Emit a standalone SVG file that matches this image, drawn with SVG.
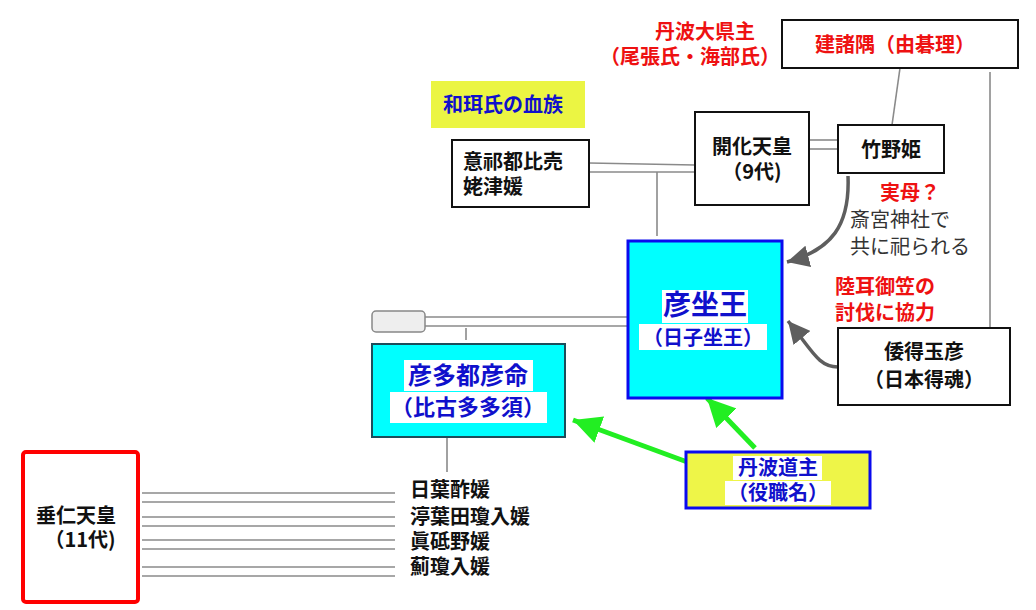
<svg xmlns="http://www.w3.org/2000/svg" width="1036" height="610" viewBox="0 0 1036 610">
<style>
text{font-family:"Noto Sans CJK JP","Noto Sans",sans-serif;font-weight:bold;font-size:20px;fill:#111}
.c{text-anchor:middle}
.red{fill:#ee1111}
.blue{fill:#1010cc}
.reg{font-weight:normal;fill:#333}
.box{fill:#fff;stroke:#111;stroke-width:2}
.ln{stroke:#8a8a8a;stroke-width:1.6;fill:none}
.hl{fill:#fff}
</style>
<defs>
<marker id="agr" viewBox="0 0 10 10" refX="10" refY="5" markerWidth="28" markerHeight="28" orient="auto" markerUnits="userSpaceOnUse">
<path d="M0,0 L10,5 L0,10 Z" fill="#22ee22"/>
</marker>
<marker id="agy" viewBox="0 0 10 10" refX="10" refY="5" markerWidth="22" markerHeight="22" orient="auto" markerUnits="userSpaceOnUse">
<path d="M0,0 L10,5 L0,10 Z" fill="#5e5e5e"/>
</marker>
</defs>

<g id="connectors">
<line class="ln" x1="589" y1="163" x2="695" y2="165"/>
<line class="ln" x1="589" y1="172" x2="695" y2="172"/>
<line class="ln" x1="657" y1="172" x2="657" y2="236"/>
<line class="ln" x1="806" y1="140" x2="838" y2="140"/>
<line class="ln" x1="809" y1="149" x2="838" y2="149"/>
<line class="ln" x1="900" y1="68" x2="892" y2="125"/>
<line class="ln" x1="990" y1="72" x2="990" y2="333"/>
<line class="ln" x1="425" y1="317" x2="628" y2="317"/>
<line class="ln" x1="425" y1="326" x2="628" y2="326"/>
<line class="ln" x1="466" y1="328" x2="466" y2="340"/>
<line class="ln" x1="447" y1="437" x2="447" y2="472"/>
<line class="ln" x1="142" y1="493" x2="395" y2="493"/>
<line class="ln" x1="142" y1="502" x2="395" y2="502"/>
<line class="ln" x1="142" y1="517" x2="395" y2="517"/>
<line class="ln" x1="142" y1="526" x2="395" y2="526"/>
<line class="ln" x1="142" y1="540" x2="395" y2="540"/>
<line class="ln" x1="142" y1="549" x2="395" y2="549"/>
<line class="ln" x1="142" y1="567" x2="395" y2="567"/>
<line class="ln" x1="142" y1="576" x2="395" y2="576"/>
<path d="M848,176 C850,225 832,250 787,262" fill="none" stroke="#5e5e5e" stroke-width="3.5" marker-end="url(#agy)"/>
<path d="M838,367 C818,367 812,350 788,321" fill="none" stroke="#5e5e5e" stroke-width="3.5" marker-end="url(#agy)"/>
<line x1="690" y1="463" x2="573" y2="420" stroke="#22ee22" stroke-width="5" marker-end="url(#agr)"/>
<line x1="755" y1="448" x2="707" y2="398" stroke="#22ee22" stroke-width="5" marker-end="url(#agr)"/>
</g>

<g id="tanba-agata">
<text class="c red" x="705" y="39">丹波大県主</text>
<text class="c red" x="690" y="64">（尾張氏・海部氏）</text>
</g>

<g id="takemorosumi">
<rect class="box" x="782" y="20" width="236" height="48"/>
<text class="c red" x="895" y="52">建諸隅（由碁理）</text>
</g>

<g id="wani">
<rect x="431" y="81" width="154" height="47" fill="#ebf543"/>
<text class="blue" x="443" y="112">和珥氏の血族</text>
</g>

<g id="okitsuhime">
<rect class="box" x="452" y="140" width="137" height="67" stroke-width="1.5"/>
<text x="463" y="169">意祁都比売</text>
<text x="463" y="194">姥津媛</text>
</g>

<g id="kaika">
<rect class="box" x="695" y="112" width="114" height="93" stroke-width="1.5"/>
<text class="c" x="752" y="154">開化天皇</text>
<text class="c" x="752" y="179">（9代)</text>
</g>

<g id="takenohime">
<rect class="box" x="838" y="125" width="106" height="48"/>
<text class="c" x="891" y="157">竹野姫</text>
</g>

<g id="note-mother">
<text class="red" x="880" y="200">実母？</text>
<text class="reg" x="850" y="227">斎宮神社で</text>
<text class="reg" x="850" y="254">共に祀られる</text>
</g>

<g id="note-kugami">
<text class="red" x="835" y="294">陸耳御笠の</text>
<text class="red" x="835" y="320">討伐に協力</text>
</g>

<g id="yamatoenotamahiko">
<rect class="box" x="838" y="328" width="172" height="77"/>
<text class="c" x="924" y="359">倭得玉彦</text>
<text class="c" x="924" y="387">（日本得魂）</text>
</g>

<g id="hikoimasu">
<rect x="628" y="241" width="154" height="157" fill="#00ffff" stroke="#0a0aee" stroke-width="3"/>
<rect class="hl" x="662" y="290" width="86" height="33"/>
<rect class="hl" x="639" y="324" width="128" height="26"/>
<text class="c blue" x="705" y="315" style="font-size:28px">彦坐王</text>
<text class="c blue" x="703" y="345">（日子坐王）</text>
</g>

<g id="blank-node">
<rect x="372" y="311" width="53" height="21" rx="4" fill="#eeeeee" stroke="#888" stroke-width="1.5"/>
</g>

<g id="hikotatsu">
<rect x="372" y="344" width="193" height="93" fill="#00ffff" stroke="#1d4d5a" stroke-width="2"/>
<rect class="hl" x="404" y="360" width="129" height="31"/>
<rect class="hl" x="390" y="392" width="157" height="31"/>
<text class="c blue" x="468" y="384" style="font-size:24px">彦多都彦命</text>
<text class="c blue" x="468" y="415" style="font-size:22px">（比古多多須）</text>
</g>

<g id="tanba-michinushi">
<rect x="686" y="452" width="184" height="56" fill="#eef548" stroke="#0a0aee" stroke-width="3"/>
<rect class="hl" x="733" y="456" width="89" height="24"/>
<rect class="hl" x="725" y="481" width="106" height="24"/>
<text class="c blue" x="778" y="475">丹波道主</text>
<text class="c blue" x="778" y="500">（役職名）</text>
</g>

<g id="suinin">
<rect x="23" y="452" width="115" height="150" rx="3" fill="#fff" stroke="#ff0000" stroke-width="4"/>
<text class="c" x="76" y="523">垂仁天皇</text>
<text class="c" x="80" y="547">（11代)</text>
</g>

<g id="consorts">
<text x="410" y="497">日葉酢媛</text>
<text x="410" y="524">渟葉田瓊入媛</text>
<text x="410" y="549">眞砥野媛</text>
<text x="410" y="574">薊瓊入媛</text>
</g>
</svg>
